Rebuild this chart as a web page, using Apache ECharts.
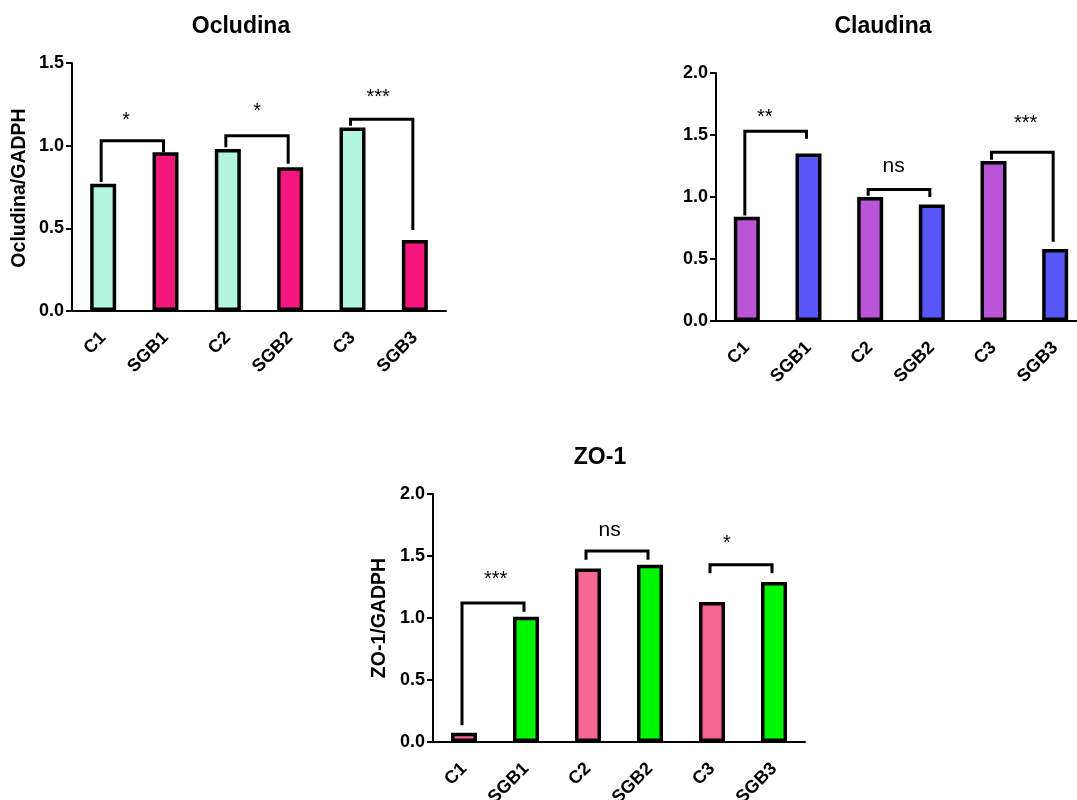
<!DOCTYPE html>
<html>
<head>
<meta charset="utf-8">
<title>Ocludina / Claudina / ZO-1</title>
<script src="https://cdn.jsdelivr.net/npm/echarts@6/dist/echarts.min.js"></script>
<style>
    html, body { margin: 0; padding: 0; background: #fff; }
    #main { width: 1077px; height: 800px; }
</style>
</head>
<body>
<div id="main"></div>
<script>
// data
var categories = ['C1', 'SGB1', 'C2', 'SGB2', 'C3', 'SGB3'];

var ocludina = [0.77, 0.96, 0.98, 0.87, 1.11, 0.43];
var claudina = [0.84, 1.35, 1.00, 0.94, 1.29, 0.58];
var zo1 = [0.075, 1.01, 1.40, 1.43, 1.13, 1.29];

var ocludinaTicks = [0, 1.5, 0.5];   // min, max, interval
var claudinaTicks = [0, 2.0, 0.5];
var zo1Ticks = [0, 2.0, 0.5];

// brackets: [left cat, right cat, top, left end, right end]
var ocludinaBrackets = [[0, 1, 1.03, 0.78, 0.96], [2, 3, 1.06, 0.99, 0.89], [4, 5, 1.16, 1.12, 0.49]];
var claudinaBrackets = [[0, 1, 1.53, 0.85, 1.47], [2, 3, 1.06, 1.01, 1.00], [4, 5, 1.36, 1.30, 0.64]];
var zo1Brackets = [[0, 1, 1.12, 0.135, 1.05], [2, 3, 1.54, 1.47, 1.47], [4, 5, 1.43, 1.36, 1.36]];

// significance marks: text + [category position, value]
var ocludinaSigText = ['*', '*', '***'];
var ocludinaSigPos = [[0.37, 1.18], [2.47, 1.24], [4.41, 1.32]];
var claudinaSigText = ['**', 'ns', '***'];
var claudinaSigPos = [[0.29, 1.68], [2.38, 1.25], [4.52, 1.63]];
var zo1SigText = ['***', 'ns', '*'];
var zo1SigPos = [[0.51, 1.35], [2.35, 1.71], [4.24, 1.64]];


var FONT = '"Liberation Sans", Arial, sans-serif';

var chart = echarts.init(document.getElementById('main'), null, { renderer: 'canvas' });

function barData(values, cColor, sColor) {
    return values.map(function (v, i) {
        return { value: v, itemStyle: { color: i % 2 === 0 ? cColor : sColor } };
    });
}

function xAxisOf(gridIndex) {
    return {
        type: 'category',
        gridIndex: gridIndex,
        data: categories,
        axisLine: { lineStyle: { color: '#000', width: 2 } },
        axisTick: { alignWithLabel: true, length: 6, lineStyle: { color: '#000', width: 2 } },
        axisLabel: {
            rotate: 45,
            margin: 24,
            color: '#000',
            fontFamily: FONT,
            fontWeight: 'bold',
            fontSize: 18
        },
        splitLine: { show: false }
    };
}

function yAxisOf(gridIndex, ticks) {
    return {
        type: 'value',
        gridIndex: gridIndex,
        min: ticks[0],
        max: ticks[1],
        interval: ticks[2],
        axisLine: { show: true, lineStyle: { color: '#000', width: 2 } },
        axisTick: { show: true, length: 6, lineStyle: { color: '#000', width: 2 } },
        axisLabel: {
            margin: 8,
            color: '#000',
            fontFamily: FONT,
            fontWeight: 'bold',
            fontSize: 18,
            formatter: function (v) { return v.toFixed(1); }
        },
        splitLine: { show: false }
    };
}

function barSeries(gridIndex, values, cColor, sColor) {
    return {
        type: 'bar',
        xAxisIndex: gridIndex,
        yAxisIndex: gridIndex,
        barWidth: 26,
        data: barData(values, cColor, sColor),
        itemStyle: { borderColor: '#000', borderWidth: 3.5 },
        silent: true
    };
}

function bracketSeries(gridIndex, brackets) {
    return {
        type: 'custom',
        xAxisIndex: gridIndex,
        yAxisIndex: gridIndex,
        clip: false,
        silent: true,
        encode: { x: 0, y: 2 },
        data: brackets,
        renderItem: function (params, api) {
            var l = api.value(0), r = api.value(1);
            var top = api.value(2);
            var pL = api.coord([l, top]);
            var pR = api.coord([r, top]);
            var yL = api.coord([l, api.value(3)])[1];
            var yR = api.coord([r, api.value(4)])[1];
            var xL = pL[0] - 2, xR = pR[0] - 2;
            return {
                type: 'polyline',
                shape: { points: [[xL, yL], [xL, pL[1]], [xR, pR[1]], [xR, yR]] },
                style: { stroke: '#000', lineWidth: 3, fill: null, lineJoin: 'miter' }
            };
        }
    };
}

function sigSeries(gridIndex, texts, positions) {
    return {
        type: 'custom',
        xAxisIndex: gridIndex,
        yAxisIndex: gridIndex,
        clip: false,
        silent: true,
        encode: { x: 0, y: 1 },
        data: positions,
        renderItem: function (params, api) {
            var f = api.value(0);
            var band = api.size([1, 0])[0];
            var p0 = api.coord([0, api.value(1)]);
            var txt = texts[params.dataIndex];
            var isStar = txt.charAt(0) === '*';
            return {
                type: 'text',
                style: {
                    text: txt,
                    x: p0[0] + f * band,
                    y: p0[1] + (isStar ? 5 : 0),
                    align: 'center',
                    verticalAlign: 'middle',
                    fill: '#000',
                    font: (isStar ? '20px ' : '21px ') + FONT
                }
            };
        }
    };
}

function label(text, x, y, size, rotate) {
    return {
        type: 'text',
        x: x,
        y: y,
        rotation: rotate ? Math.PI / 2 : 0,
        silent: true,
        style: {
            text: text,
            align: 'center',
            verticalAlign: 'middle',
            fill: '#000',
            font: 'bold ' + size + 'px ' + FONT
        }
    };
}

var option = {
    backgroundColor: '#fff',
    animation: false,
    // fixed plot boxes; labels are allowed to run off the canvas like in the figure
    grid: [
        { left: 72, top: 63, width: 374, height: 248, outerBoundsMode: 'none' },
        { left: 716, top: 73, width: 370, height: 248, outerBoundsMode: 'none' },
        { left: 433, top: 494, width: 372, height: 248, outerBoundsMode: 'none' }
    ],
    xAxis: [xAxisOf(0), xAxisOf(1), xAxisOf(2)],
    yAxis: [yAxisOf(0, ocludinaTicks), yAxisOf(1, claudinaTicks), yAxisOf(2, zo1Ticks)],
    graphic: [
        label('Ocludina', 241, 27, 23),
        label('Claudina', 883, 27, 23),
        label('ZO-1', 600, 458, 23),
        label('Ocludina/GADPH', 20, 188, 19.5, true),
        label('ZO-1/GADPH', 380, 618, 19.5, true)
    ],
    series: [
        barSeries(0, ocludina, '#b3f5de', '#f5167e'),
        barSeries(1, claudina, '#b955d6', '#5858fa'),
        barSeries(2, zo1, '#f76691', '#00f500'),
        bracketSeries(0, ocludinaBrackets),
        bracketSeries(1, claudinaBrackets),
        bracketSeries(2, zo1Brackets),
        sigSeries(0, ocludinaSigText, ocludinaSigPos),
        sigSeries(1, claudinaSigText, claudinaSigPos),
        sigSeries(2, zo1SigText, zo1SigPos)
    ]
};

chart.setOption(option);
</script>
</body>
</html>
